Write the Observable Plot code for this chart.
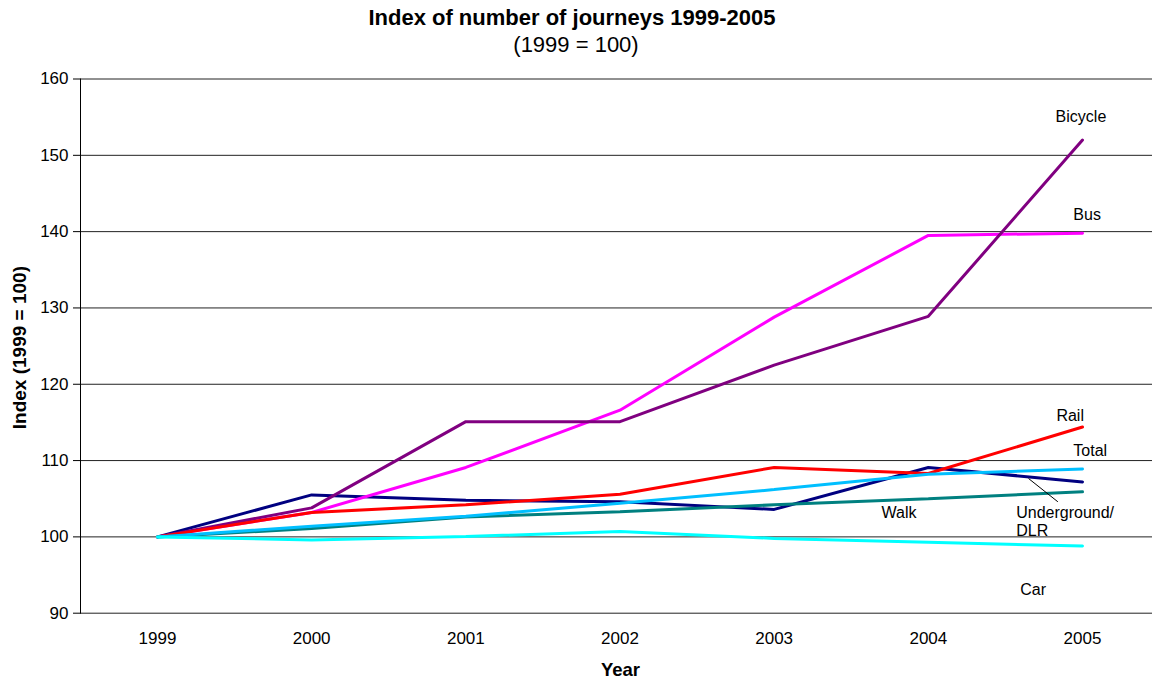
<!DOCTYPE html>
<html><head><meta charset="utf-8">
<script src="https://cdn.jsdelivr.net/npm/d3@7"></script>
<script src="https://cdn.jsdelivr.net/npm/@observablehq/plot@0.6"></script>
<style>
body{margin:0;background:#fff;font-family:"Liberation Sans",Arial,sans-serif;color:#000;}
#wrap{width:1152px;}
#head{height:60px;position:relative;}
#t1{position:absolute;left:0;width:1144px;top:5px;text-align:center;font-weight:bold;font-size:22px;line-height:26px;}
#t2{position:absolute;left:0;width:1152px;top:32px;text-align:center;font-size:22px;line-height:26px;}
</style></head><body>
<div id="wrap">
  <div id="head"><div id="t1">Index of number of journeys 1999-2005</div><div id="t2">(1999 = 100)</div></div>
  <div id="chart"></div>
</div>
<script>
const years = [1999, 2000, 2001, 2002, 2003, 2004, 2005];
const yTicks = [90, 100, 110, 120, 130, 140, 150, 160];

const underground = [100, 105.5, 104.8, 104.6, 103.6, 109.1, 107.2];
const bus         = [100, 103.2, 109.1, 116.6, 128.8, 139.5, 139.8];
const bicycle     = [100, 103.8, 115.1, 115.1, 122.5, 128.9, 152.0];
const rail        = [100, 103.2, 104.2, 105.6, 109.1, 108.3, 114.4];
const walk        = [100, 101.1, 102.6, 103.3, 104.2, 105.0, 105.9];
const total       = [100, 101.4, 102.7, 104.4, 106.2, 108.2, 108.9];
const car         = [100, 99.6, 100.05, 100.7, 99.8, 99.3, 98.8];

const seriesNames  = ["Underground/DLR", "Bus", "Bicycle", "Rail", "Walk", "Total", "Car"];
const seriesValues = [underground, bus, bicycle, rail, walk, total, car];
const seriesColors = ["#000080", "#FF00FF", "#800080", "#FF0000", "#008080", "#00BFFF", "#00FFFF"];

// in-chart series labels (anchored in data coordinates)
const labelText  = ["Bicycle", "Bus", "Rail", "Total", "Walk", "Car"];
const labelYear  = [2004.99, 2005.03, 2004.92, 2005.05, 2003.81, 2004.68];
const labelValue = [155.0, 142.2, 115.9, 111.3, 103.2, 93.0];
const ugLabel = "Underground/\nDLR";
const ugLabelYear = 2004.57;
const ugLabelValue = 102.0;
// leader line from the Underground/DLR label to its line
const leaderYear  = [2004.84, 2004.65];
const leaderValue = [104.6, 107.65];

const rows = [];
seriesNames.forEach((name, i) => {
  years.forEach((yr, j) => rows.push({mode: name, year: yr, value: seriesValues[i][j]}));
});
const labels = labelText.map((t, i) => ({text: t, year: labelYear[i], value: labelValue[i]}));
const leader = [{x1: leaderYear[0], y1: leaderValue[0], x2: leaderYear[1], y2: leaderValue[1]}];

const chart = Plot.plot({
  width: 1152,
  height: 618,
  marginLeft: 80,
  marginRight: 0,
  marginTop: 18.5,
  marginBottom: 65.3,
  style: {fontFamily: "'Liberation Sans', Arial, sans-serif", fontSize: "17px", color: "#000", background: "#fff", overflow: "visible"},
  x: {domain: [1999, 2005], range: [157, 1082]},
  y: {domain: [90, 160]},
  color: {domain: seriesNames, range: seriesColors},
  marks: [
    Plot.ruleY(yTicks, {stroke: "#222", strokeWidth: 1}),
    Plot.frame({anchor: "left", stroke: "#000"}),
    Plot.axisY({ticks: yTicks, tickSize: 7, tickPadding: 5, label: null, fontSize: 17}),
    Plot.axisX({ticks: years, tickFormat: d => String(d), tickSize: 0, tickPadding: 19, label: null, fontSize: 17}),
    Plot.line(rows, {x: "year", y: "value", z: "mode", stroke: "mode", strokeWidth: 3, strokeLinejoin: "miter"}),
    Plot.link(leader, {x1: "x1", y1: "y1", x2: "x2", y2: "y2", stroke: "#000", strokeWidth: 1}),
    Plot.text(labels, {x: "year", y: "value", text: "text", fontSize: 16, fill: "#000"}),
    Plot.text([ugLabel], {x: ugLabelYear, y: ugLabelValue, text: d => d, textAnchor: "start", fontSize: 16, fill: "#000", lineHeight: 1.12}),
    Plot.text(["Year"], {frameAnchor: "bottom", textAnchor: "middle", lineAnchor: "middle", dx: 4, dy: 57, fontWeight: "bold", fontSize: 18.5, fill: "#000"}),
    Plot.text(["Index (1999 = 100)"], {frameAnchor: "left", textAnchor: "middle", lineAnchor: "middle", dx: -60.5, dy: 1.5, rotate: -90, fontWeight: "bold", fontSize: 19, fill: "#000"})
  ]
});
document.getElementById("chart").appendChild(chart);
</script>
</body></html>
